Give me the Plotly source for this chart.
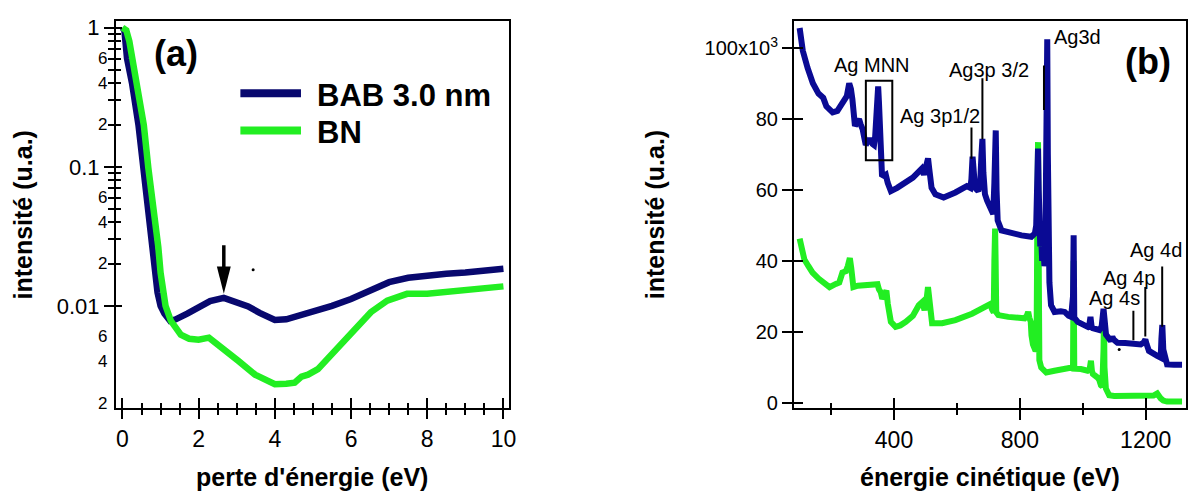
import math
import plotly.graph_objects as go

W, H = 1195, 498
FONT = "Arial, 'Liberation Sans', sans-serif"

# ---------------- Panel (a): perte d'énergie (eV) vs intensité (u.a.), log scale
loss_bab = [0.0, 0.05, 0.12, 0.25, 0.42, 0.55, 0.65, 0.77, 0.83, 0.92, 1.0,
            1.1, 1.25, 1.4, 1.7, 2.0, 2.3, 2.66, 3.0, 3.3, 3.6, 4.0, 4.3, 4.7, 5.0, 5.5,
            6.0, 6.5, 7.0, 7.5, 8.0, 8.5, 9.0, 9.5, 10.0]
int_bab = [1.0, 0.96, 0.6, 0.4, 0.2, 0.0975, 0.057, 0.0266, 0.0173,
           0.0125, 0.0100, 0.0088, 0.0078, 0.0080, 0.0088, 0.0098, 0.0108, 0.0114, 0.0107,
           0.0099, 0.0089, 0.0079, 0.0080, 0.0086, 0.0091, 0.0100, 0.0112, 0.0128, 0.0148,
           0.0159, 0.0166, 0.0170, 0.0174, 0.0178, 0.0185]
loss_bn = [0.0, 0.1, 0.18, 0.255, 0.38, 0.56, 0.68, 0.80, 0.94, 1.0, 1.13, 1.27, 1.4, 1.53,
           1.75, 2.0, 2.27, 2.5, 2.7, 3.05, 3.48, 3.75, 4.0, 4.3, 4.52, 4.7, 4.87, 5.13,
           5.47, 6.0, 6.52, 6.95, 7.2, 7.47, 8.0, 8.5, 8.96, 9.5, 10.0]
int_bn = [1.0, 0.96, 0.8, 0.6, 0.4, 0.2, 0.0975, 0.0567, 0.0266, 0.0173, 0.0100, 0.0078,
          0.0068, 0.0062, 0.0058, 0.0057, 0.0059, 0.0053, 0.0048, 0.0040, 0.0032, 0.0029,
          0.00273, 0.00275, 0.0028, 0.0031, 0.0032, 0.0035, 0.0044, 0.0062, 0.0090, 0.0109,
          0.0115, 0.0122, 0.0122, 0.0126, 0.0128, 0.0132, 0.0138]
series_names = ["BAB 3.0 nm", "BN"]

a_xticks = [0, 2, 4, 6, 8, 10]
a_xminor = [0.5, 1, 1.5, 2.5, 3, 3.5, 4.5, 5, 5.5, 6.5, 7, 7.5, 8.5, 9, 9.5]
a_yticks = [1, 0.1, 0.01]
a_yticktext = ["1", "0.1", "0.01"]
a_yminor = [m * 10 ** e for e in (0, -1, -2) for m in (9, 8, 7, 6, 5, 4, 3, 2)]
a_ysmall_vals = [0.6, 0.4, 0.2, 0.06, 0.04, 0.02, 0.006, 0.004, 0.002]
a_ysmall_text = ["6", "4", "2", "6", "4", "2", "6", "4", "2"]

A_XRANGE = [-0.172, 10.135]
A_YRANGE = [-2.738, 0.051]

arrow_x, arrow_top, arrow_tip = 2.66, 0.0273, 0.0122
dot_a = (3.43, 0.0182)

# ---------------- Panel (b): énergie cinétique (eV) vs intensité (x10^3 counts)
ke_bab = [100, 110, 125, 142, 160, 175, 185, 205, 220, 231, 242, 250, 257.6, 263, 267.7, 272,
          275.8, 282, 288.9, 294, 300.1, 305, 310.2, 318, 326.3, 332, 336.4, 340, 343, 346,
          349.6, 352, 354, 355.6, 358, 361.7, 368, 373.8, 380, 390, 410, 437.5, 460, 478.9,
          488, 495.1, 501, 508.2, 512, 519.3, 531.4, 557.7, 595.1, 631.5, 642.6, 646, 649.7,
          653, 657.7, 667.8, 674, 678, 681, 684, 689.1, 696, 705.2, 715.3, 719, 721.5, 723.4,
          726, 729.5, 741.6, 770, 805.3, 836.6, 847.7, 852, 855, 857.8, 860, 862, 864.9, 868,
          871, 874, 878, 881, 884, 887.1, 889, 891, 894, 899.2, 910.3, 930, 942.7, 955, 963,
          969, 971, 973, 984.1, 1000, 1015.4, 1021, 1024.5, 1028, 1031.6, 1052.8, 1060, 1066,
          1070, 1074, 1089.2, 1094, 1098.3, 1110.4, 1135, 1163, 1184.2, 1194, 1199, 1203,
          1210.4, 1236.7, 1247.8, 1250, 1252.9, 1256, 1260, 1268, 1290, 1315.6]
kcnt_bab = [105.7, 99.3, 94.5, 90.1, 87.2, 86.0, 83.6, 81.9, 82.3, 83.7, 85.6, 86.5, 90.1, 88.5,
            85.6, 80.5, 78.1, 79.0, 80.0, 78.5, 77.2, 75.0, 72.7, 74.0, 74.0, 73.0, 72.7, 75.0,
            80.0, 86.0, 89.2, 85.0, 77.0, 70.8, 66.0, 64.3, 64.0, 64.3, 62.0, 59.7, 60.6, 62.0,
            63.5, 65.2, 66.0, 64.3, 67.0, 68.9, 66.0, 60.6, 58.8, 57.9, 59.3, 61.1, 60.6, 63.0,
            69.4, 65.0, 60.6, 59.7, 62.0, 70.0, 74.4, 65.0, 58.8, 57.0, 55.1, 53.2, 62.0, 76.0,
            76.8, 60.0, 51.4, 48.6, 47.8, 47.2, 46.8, 47.7, 50.0, 65.0, 71.7, 60.0, 47.0, 44.1,
            46.0, 40.0, 45.0, 38.5, 43.0, 60.0, 102.5, 70.0, 37.0, 33.9, 27.5, 25.6, 25.8, 25.6,
            24.5, 24.2, 30.0, 47.2, 24.0, 22.8, 22.0, 21.4, 22.0, 24.2, 21.5, 21.0, 20.5, 21.5,
            26.5, 20.5, 19.2, 17.4, 18.6, 17.8, 16.9, 16.8, 16.6, 16.4, 17.0, 17.8, 16.5, 14.6,
            13.2, 12.7, 18.0, 21.9, 15.0, 12.7, 10.8, 10.7, 10.7]
ke_bn = [100, 108, 115, 128, 141, 160, 174, 195, 215, 226, 236, 247, 253, 259.6, 264, 270.8,
         285, 300, 325, 347.6, 352, 357.7, 362.7, 368, 375.8, 380, 385, 390, 405, 420, 437.5,
         460, 478.9, 485, 490, 497, 502, 508, 513, 518, 521, 553, 595, 648, 680, 700, 706,
         712, 717, 719, 721.4, 723, 725, 731.5, 763, 800, 815, 822, 826.5, 830, 834.6, 837,
         841.6, 850, 853, 855.5, 857.8, 860, 862, 867.9, 875, 884, 910, 930, 950, 965, 969,
         971, 973, 994, 1015, 1022, 1026, 1029, 1032, 1046.8, 1052, 1057.7, 1062, 1066,
         1067.5, 1069, 1073.5, 1078, 1084, 1100, 1120, 1160, 1205, 1225, 1236.7, 1242,
         1247.8, 1256, 1268, 1315.6]
kcnt_bn = [46.3, 43.0, 40.4, 38.5, 36.7, 35.0, 33.9, 32.6, 33.5, 33.9, 36.7, 37.1, 38.5, 40.8,
           38.0, 32.6, 33.0, 33.0, 33.2, 33.4, 32.0, 31.2, 29.3, 30.5, 31.6, 28.0, 24.0, 22.8,
           21.4, 21.8, 22.8, 24.5, 27.5, 28.0, 28.4, 26.1, 28.0, 32.6, 28.0, 23.0, 22.4, 22.4,
           23.3, 25.1, 26.5, 27.5, 27.8, 26.2, 25.5, 40.0, 49.1, 40.0, 25.5, 24.7, 24.2, 24.0,
           23.8, 24.5, 25.6, 24.0, 22.8, 19.0, 16.4, 14.6, 15.0, 50.0, 73.5, 40.0, 12.0, 9.9,
           9.0, 8.5, 9.0, 9.2, 9.6, 9.9, 9.5, 40.0, 9.6, 9.5, 9.0, 9.5, 11.8, 9.0, 8.1, 7.1,
           6.5, 4.9, 4.6, 15.0, 25.0, 10.0, 4.0, 3.0, 2.1, 1.9, 1.9, 1.8, 1.9, 2.0, 2.6, 1.8,
           1.2, 0.6, 0.3, 0.3]
cnt_bab = [v * 1000 for v in kcnt_bab]
cnt_bn = [v * 1000 for v in kcnt_bn]

b_xticks = [400, 800, 1200]
b_xminor = [200, 600, 1000]
b_yticks = [0, 20000, 40000, 60000, 80000, 100000]
b_yticktext = ["0", "20", "40", "60", "80", "100x10<sup>3</sup>"]
B_XRANGE = [81.9, 1328.2]
B_YRANGE = [-1630, 107770]

peak_labels = ["Ag MNN", "Ag 3p1/2", "Ag3p 3/2", "Ag3d", "Ag 4d", "Ag 4p", "Ag 4s"]
peak_label_ev = [328.8, 545.1, 703, 984, 1233.5, 1148, 1100.8]
peak_label_k = [95.3, 80.8, 93.8, 103.2, 43.2, 35.3, 29.5]
mark_ev = [646.2, 681, 876.7, 1252.5, 1198.8, 1160.9]
mark_k0 = [68.8, 74.3, 82.6, 21.4, 18.7, 17.6]
mark_k1 = [77.6, 91.5, 95.1, 38.4, 32.6, 25.9]
mnn_box = [310.5, 394.5, 68.4, 90.8]
dot_b = (1115.7, 15.0)

# ---------------- styling
NAVY_A, NAVY_B, GREEN = "#08086e", "#0a0a94", "#22ee22"
A_XDOM = [116.7 / W, 512.0 / W]
B_XDOM = [799.3 / W, 1194.0 / W]
YDOM = [1 - 411.7 / H, 1 - 16.0 / H]

fig = go.Figure()
# panel (a): navy first, green on top
fig.add_trace(go.Scatter(x=loss_bab, y=int_bab, mode="lines", name=series_names[0],
                         line=dict(color=NAVY_A, width=6.5), xaxis="x", yaxis="y"))
fig.add_trace(go.Scatter(x=loss_bn, y=int_bn, mode="lines", name=series_names[1],
                         line=dict(color=GREEN, width=6.5), xaxis="x", yaxis="y"))
fig.add_trace(go.Scatter(x=[dot_a[0]], y=[dot_a[1]], mode="markers",
                         marker=dict(color="black", size=3), xaxis="x", yaxis="y"))
# panel (b): green first, navy on top
fig.add_trace(go.Scatter(x=ke_bn, y=cnt_bn, mode="lines", name=series_names[1],
                         line=dict(color=GREEN, width=6), xaxis="x2", yaxis="y2"))
fig.add_trace(go.Scatter(x=ke_bab, y=cnt_bab, mode="lines", name=series_names[0],
                         line=dict(color=NAVY_B, width=6), xaxis="x2", yaxis="y2"))
fig.add_trace(go.Scatter(x=[dot_b[0]], y=[dot_b[1] * 1000], mode="markers",
                         marker=dict(color="black", size=3), xaxis="x2", yaxis="y2"))
# dummy traces so that the "inside tick" overlay axes get drawn
for xa, ya in (("x3", "y"), ("x", "y3"), ("x4", "y2"), ("x2", "y4")):
    fig.add_trace(go.Scatter(x=[None], y=[None], mode="lines", xaxis=xa, yaxis=ya,
                             hoverinfo="skip"))

common = dict(showgrid=False, zeroline=False, tickcolor="black", tickwidth=2)
main_line = dict(showline=True, mirror=True, linecolor="black", linewidth=2)

fig.update_layout(
    width=W, height=H, margin=dict(l=0, r=0, t=0, b=0),
    paper_bgcolor="white", plot_bgcolor="white", showlegend=False,
    font=dict(family=FONT, color="black"),
    # ---- panel (a)
    xaxis=dict(domain=A_XDOM, range=A_XRANGE, anchor="y", tickmode="array", tickvals=a_xticks,
               ticks="outside", ticklen=9, tickfont=dict(size=23),
               minor=dict(tickmode="array", tickvals=a_xminor, ticks="outside", ticklen=5,
                          tickwidth=2, tickcolor="black"),
               **common, **main_line),
    xaxis3=dict(overlaying="x", anchor="y", range=A_XRANGE, tickmode="array", tickvals=a_xticks,
                ticks="inside", ticklen=10, showticklabels=False, showline=False,
                minor=dict(tickmode="array", tickvals=a_xminor, ticks="inside", ticklen=5,
                           tickwidth=2, tickcolor="black"),
                **common),
    yaxis=dict(domain=YDOM, type="log", range=A_YRANGE, anchor="x", tickmode="array",
               tickvals=a_yticks, ticktext=a_yticktext, ticks="outside", ticklen=10,
               tickfont=dict(size=22),
               minor=dict(tickmode="array", tickvals=a_yminor, ticks="outside", ticklen=6,
                          tickwidth=2, tickcolor="black"),
               **common, **main_line),
    yaxis3=dict(overlaying="y", anchor="x", type="log", range=A_YRANGE, tickmode="array",
                tickvals=a_yticks, ticks="inside", ticklen=6, showticklabels=False,
                showline=False,
                minor=dict(tickmode="array", tickvals=a_yminor, ticks="inside", ticklen=5,
                           tickwidth=2, tickcolor="black"),
                **common),
    # ---- panel (b)
    xaxis2=dict(domain=B_XDOM, range=B_XRANGE, anchor="y2", tickmode="array", tickvals=b_xticks,
                ticks="outside", ticklen=10, tickfont=dict(size=23),
                minor=dict(tickmode="array", tickvals=b_xminor, ticks="outside", ticklen=5,
                           tickwidth=2, tickcolor="black"),
                **common, **main_line),
    xaxis4=dict(overlaying="x2", anchor="y2", range=B_XRANGE, tickmode="array",
                tickvals=b_xticks, ticks="inside", ticklen=10, showticklabels=False,
                showline=False,
                minor=dict(tickmode="array", tickvals=b_xminor, ticks="inside", ticklen=5,
                           tickwidth=2, tickcolor="black"),
                **common),
    yaxis2=dict(domain=YDOM, range=B_YRANGE, anchor="x2", tickmode="array", tickvals=b_yticks,
                ticktext=b_yticktext, ticks="outside", ticklen=10, tickfont=dict(size=20),
                **common, **main_line),
    yaxis4=dict(overlaying="y2", anchor="x2", range=B_YRANGE, tickmode="array",
                tickvals=b_yticks, ticks="inside", ticklen=9, showticklabels=False,
                showline=False, **common),
)

ann = []
shapes = []
# axis titles
ann.append(dict(text="<b>intensité (u.a.)</b>", x=23 / W, y=1 - 214 / H, xref="paper",
                yref="paper", textangle=-90, showarrow=False, font=dict(size=25),
                xanchor="center", yanchor="middle"))
ann.append(dict(text="<b>intensité (u.a.)</b>", x=659 / W, y=1 - 214 / H, xref="paper",
                yref="paper", textangle=-90, showarrow=False, font=dict(size=25),
                xanchor="center", yanchor="middle"))
ann.append(dict(text="<b>perte d'énergie (eV)</b>", x=314 / W, y=1 - 482 / H, xref="paper",
                yref="paper", showarrow=False, font=dict(size=25), xanchor="center",
                yanchor="middle"))
ann.append(dict(text="<b>énergie cinétique (eV)</b>", x=996.6 / W, y=1 - 482 / H,
                xref="paper", yref="paper", showarrow=False, font=dict(size=25),
                xanchor="center", yanchor="middle"))
# small labels of the log minor ticks
for v, t in zip(a_ysmall_vals, a_ysmall_text):
    ann.append(dict(text=t, x=110 / W, y=math.log10(v), xref="paper", yref="y",
                    showarrow=False, font=dict(size=17), xanchor="right", yanchor="middle"))
# panel letters
ann.append(dict(text="<b>(a)</b>", x=177.5 / W, y=1 - 49 / H, xref="paper", yref="paper",
                showarrow=False, font=dict(size=36), xanchor="center", yanchor="middle"))
ann.append(dict(text="<b>(b)</b>", x=1156 / W, y=1 - 58 / H, xref="paper", yref="paper",
                showarrow=False, font=dict(size=36), xanchor="center", yanchor="middle"))
# manual legend of panel (a)
for name, col, yc in ((series_names[0], NAVY_A, 90), (series_names[1], GREEN, 128)):
    shapes.append(dict(type="line", xref="paper", yref="paper", x0=242 / W, x1=303 / W,
                       y0=1 - yc / H, y1=1 - yc / H, line=dict(color=col, width=8)))
    ann.append(dict(text="<b>%s</b>" % name, x=317 / W, y=1 - (yc + 2) / H, xref="paper",
                    yref="paper", showarrow=False, font=dict(size=31), xanchor="left",
                    yanchor="middle"))
# arrow of panel (a)
def yfrac(v):
    return (math.log10(v) - A_YRANGE[0]) / (A_YRANGE[1] - A_YRANGE[0])

plot_h = (YDOM[1] - YDOM[0]) * H
px_per_x = (A_XDOM[1] - A_XDOM[0]) * W / (A_XRANGE[1] - A_XRANGE[0])
head_len = 28 / plot_h
head_hw = 7 / px_per_x
y_tip = yfrac(arrow_tip)
shapes.append(dict(type="line", xref="x", yref="y domain", x0=arrow_x, x1=arrow_x,
                   y0=yfrac(arrow_top), y1=y_tip + head_len * 0.9,
                   line=dict(color="black", width=3.5)))
shapes.append(dict(type="path", xref="x", yref="y domain",
                   path="M%f,%f L%f,%f L%f,%f Z" % (arrow_x - head_hw, y_tip + head_len,
                                                    arrow_x + head_hw, y_tip + head_len,
                                                    arrow_x, y_tip),
                   fillcolor="black", line=dict(width=0)))
# panel (b) peak labels, marker lines and box
for t, xv, yv in zip(peak_labels, peak_label_ev, peak_label_k):
    ann.append(dict(text=t, x=xv, y=yv * 1000, xref="x2", yref="y2", showarrow=False,
                    font=dict(size=20), xanchor="center", yanchor="middle"))
for xv, y0, y1 in zip(mark_ev, mark_k0, mark_k1):
    shapes.append(dict(type="line", xref="x2", yref="y2", x0=xv, x1=xv, y0=y0 * 1000,
                       y1=y1 * 1000, line=dict(color="black", width=2)))
shapes.append(dict(type="rect", xref="x2", yref="y2", x0=mnn_box[0], x1=mnn_box[1],
                   y0=mnn_box[2] * 1000, y1=mnn_box[3] * 1000,
                   line=dict(color="black", width=2)))

fig.update_layout(annotations=ann, shapes=shapes)
fig.write_html(
    "out.html",
    config={"displayModeBar": False},
    post_script="document.documentElement.style.margin='0';document.body.style.margin='0';"
                "document.body.style.overflow='hidden';",
)
